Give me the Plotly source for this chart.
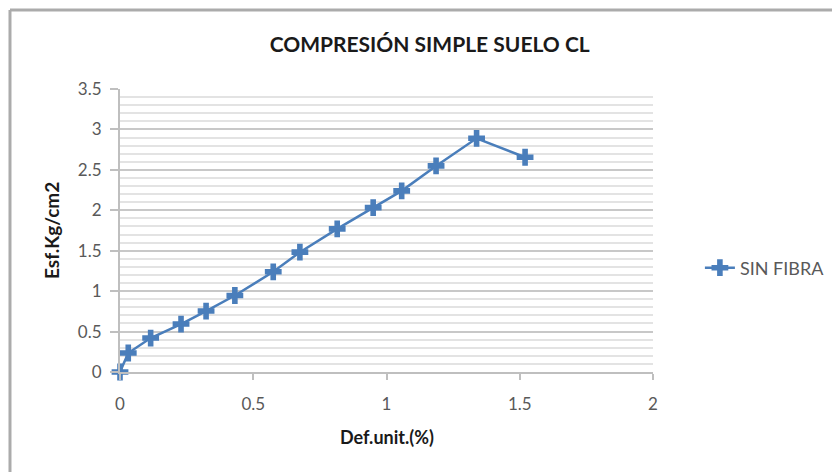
import plotly.graph_objects as go

def_unit = [0.0, 0.031, 0.115, 0.229, 0.323, 0.431, 0.575, 0.675, 0.815, 0.95, 1.057, 1.186, 1.338, 1.52]
esfuerzo = [0.0, 0.235, 0.42, 0.593, 0.754, 0.946, 1.239, 1.482, 1.77, 2.033, 2.24, 2.549, 2.89, 2.656]
series_name = "SIN FIBRA"
chart_title = "COMPRESIÓN SIMPLE SUELO CL"
x_title = "Def.unit.(%)"
y_title = "Esf.Kg/cm2"

blue = "#4a7ebb"
grey_text = "#595959"
dark_text = "#1a1a1a"
font_family = "Lato, 'Open Sans', sans-serif"

fig = go.Figure()
fig.add_trace(
    go.Scatter(
        x=def_unit,
        y=esfuerzo,
        mode="lines+markers",
        name=series_name,
        line=dict(color=blue, width=2.5),
        marker=dict(symbol="cross", size=14, color=blue),
        cliponaxis=False,
    )
)

# chart border (only left and top visible in the crop)
fig.add_shape(type="line", xref="paper", yref="paper", x0=-0.2064, x1=-0.2064, y0=1.2792, y1=-0.5,
              line=dict(color="#ababab", width=3))
fig.add_shape(type="line", xref="paper", yref="paper", x0=-0.2064, x1=1.5, y0=1.2792, y1=1.2792,
              line=dict(color="#ababab", width=3))

# axis titles
fig.add_annotation(text=f"<b>{x_title}</b>", xref="paper", yref="paper", x=0.5, y=-0.2297,
                   xanchor="center", yanchor="middle", showarrow=False,
                   font=dict(size=18, color=dark_text))
fig.add_annotation(text=f"<b>{y_title}</b>", xref="paper", yref="paper", x=-0.1276, y=0.502,
                   xanchor="center", yanchor="middle", showarrow=False, textangle=-90,
                   font=dict(size=19, color=dark_text))

fig.update_layout(
    width=840,
    height=472,
    margin=dict(l=112, r=195, t=81, b=108),
    paper_bgcolor="white",
    plot_bgcolor="white",
    font=dict(family=font_family, size=17, color=grey_text),
    title=dict(
        text=f"<b>{chart_title}</b>",
        x=0.502,
        xref="container",
        y=0.9216,
        yref="container",
        xanchor="center",
        yanchor="middle",
        font=dict(size=21, color=dark_text),
    ),
    legend=dict(
        x=1.088,
        y=0.3675,
        xanchor="left",
        yanchor="middle",
        font=dict(size=18, color=grey_text),
        bgcolor="rgba(0,0,0,0)",
    ),
    showlegend=True,
)

fig.update_xaxes(
    range=[0, 2],
    dtick=0.5,
    tick0=0,
    showgrid=False,
    zeroline=False,
    showline=True,
    linecolor="#bfbfbf",
    linewidth=2,
    ticks="outside",
    ticklen=6,
    tickcolor="#bfbfbf",
    tickwidth=2,
    ticklabelstandoff=10,
    tickfont=dict(size=17, color=grey_text),
)
fig.update_yaxes(
    range=[0, 3.5],
    dtick=0.5,
    tick0=0,
    showgrid=True,
    gridcolor="#c8c8c8",
    gridwidth=2,
    zeroline=False,
    showline=True,
    linecolor="#bfbfbf",
    linewidth=2,
    ticks="outside",
    ticklen=8,
    tickcolor="#bfbfbf",
    tickwidth=2,
    ticklabelstandoff=5,
    tickfont=dict(size=17, color=grey_text),
    minor=dict(dtick=0.1, showgrid=True, gridcolor="#e3e3e3", gridwidth=1.5),
)

fig.write_html("out.html")
